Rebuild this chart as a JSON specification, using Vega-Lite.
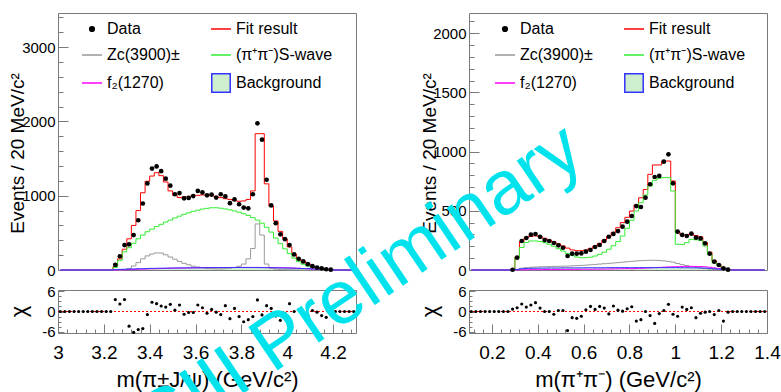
{
  "$schema": "https://vega.github.io/schema/vega-lite/v6.json",
  "background": "white",
  "padding": {"left": 6, "top": 9, "right": 14, "bottom": 0},
  "datasets": {
    "L": [
      {"m":3.01,"d":null,"fit":0,"zc":0,"sw":0,"f2":0,"bg":0,"chi":0},
      {"m":3.03,"d":null,"fit":0,"zc":0,"sw":0,"f2":0,"bg":0,"chi":0},
      {"m":3.05,"d":null,"fit":0,"zc":0,"sw":0,"f2":0,"bg":0,"chi":0},
      {"m":3.07,"d":null,"fit":0,"zc":0,"sw":0,"f2":0,"bg":0,"chi":0},
      {"m":3.09,"d":null,"fit":0,"zc":0,"sw":0,"f2":0,"bg":0,"chi":0},
      {"m":3.11,"d":null,"fit":0,"zc":0,"sw":0,"f2":0,"bg":0,"chi":0},
      {"m":3.13,"d":null,"fit":0,"zc":0,"sw":0,"f2":0,"bg":0,"chi":0},
      {"m":3.15,"d":null,"fit":0,"zc":0,"sw":0,"f2":0,"bg":0,"chi":0},
      {"m":3.17,"d":null,"fit":0,"zc":0,"sw":0,"f2":0,"bg":0,"chi":0},
      {"m":3.19,"d":null,"fit":0,"zc":0,"sw":0,"f2":0,"bg":0,"chi":0},
      {"m":3.21,"d":null,"fit":0,"zc":0,"sw":0,"f2":0,"bg":0,"chi":0},
      {"m":3.23,"d":null,"fit":0,"zc":0,"sw":0,"f2":0,"bg":0,"chi":0},
      {"m":3.25,"d":70,"fit":45,"zc":0,"sw":35,"f2":0,"bg":5,"chi":3.5},
      {"m":3.27,"d":185,"fit":150,"zc":0,"sw":130,"f2":2,"bg":8,"chi":2.2},
      {"m":3.29,"d":335,"fit":280,"zc":5,"sw":245,"f2":3,"bg":10,"chi":3.5},
      {"m":3.31,"d":345,"fit":420,"zc":20,"sw":300,"f2":5,"bg":12,"chi":-4.3},
      {"m":3.33,"d":470,"fit":600,"zc":55,"sw":360,"f2":8,"bg":14,"chi":-6.1},
      {"m":3.35,"d":670,"fit":800,"zc":100,"sw":420,"f2":10,"bg":16,"chi":-5.3},
      {"m":3.37,"d":895,"fit":1040,"zc":150,"sw":470,"f2":12,"bg":18,"chi":-5.0},
      {"m":3.39,"d":1165,"fit":1195,"zc":190,"sw":515,"f2":14,"bg":20,"chi":-0.9},
      {"m":3.41,"d":1365,"fit":1265,"zc":215,"sw":550,"f2":16,"bg":22,"chi":2.7},
      {"m":3.43,"d":1395,"fit":1310,"zc":230,"sw":585,"f2":18,"bg":23,"chi":2.3},
      {"m":3.45,"d":1330,"fit":1270,"zc":228,"sw":615,"f2":20,"bg":24,"chi":1.6},
      {"m":3.47,"d":1230,"fit":1185,"zc":205,"sw":645,"f2":22,"bg":25,"chi":1.3},
      {"m":3.49,"d":1135,"fit":1065,"zc":175,"sw":672,"f2":24,"bg":26,"chi":2.1},
      {"m":3.51,"d":1020,"fit":1005,"zc":145,"sw":700,"f2":25,"bg":27,"chi":0.4},
      {"m":3.53,"d":1035,"fit":975,"zc":115,"sw":725,"f2":26,"bg":28,"chi":1.9},
      {"m":3.55,"d":965,"fit":985,"zc":90,"sw":750,"f2":27,"bg":28,"chi":-0.8},
      {"m":3.57,"d":970,"fit":985,"zc":70,"sw":770,"f2":28,"bg":29,"chi":-0.3},
      {"m":3.59,"d":995,"fit":1005,"zc":52,"sw":790,"f2":29,"bg":30,"chi":-0.3},
      {"m":3.61,"d":1065,"fit":1005,"zc":40,"sw":805,"f2":30,"bg":30,"chi":1.9},
      {"m":3.63,"d":1045,"fit":1010,"zc":30,"sw":820,"f2":31,"bg":31,"chi":1.1},
      {"m":3.65,"d":1005,"fit":1015,"zc":22,"sw":830,"f2":32,"bg":31,"chi":-0.5},
      {"m":3.67,"d":1015,"fit":1000,"zc":18,"sw":838,"f2":32,"bg":32,"chi":0.6},
      {"m":3.69,"d":975,"fit":985,"zc":15,"sw":838,"f2":33,"bg":32,"chi":-0.2},
      {"m":3.71,"d":1020,"fit":975,"zc":15,"sw":832,"f2":33,"bg":32,"chi":-0.9},
      {"m":3.73,"d":990,"fit":960,"zc":18,"sw":822,"f2":34,"bg":33,"chi":1.7},
      {"m":3.75,"d":900,"fit":950,"zc":25,"sw":810,"f2":34,"bg":33,"chi":-2.1},
      {"m":3.77,"d":950,"fit":935,"zc":35,"sw":795,"f2":34,"bg":33,"chi":0.9},
      {"m":3.79,"d":885,"fit":925,"zc":50,"sw":778,"f2":35,"bg":33,"chi":-1.5},
      {"m":3.81,"d":840,"fit":930,"zc":80,"sw":758,"f2":35,"bg":33,"chi":-3.0},
      {"m":3.83,"d":830,"fit":950,"zc":150,"sw":735,"f2":35,"bg":33,"chi":-2.4},
      {"m":3.85,"d":1020,"fit":1065,"zc":290,"sw":705,"f2":35,"bg":33,"chi":-1.5},
      {"m":3.87,"d":1975,"fit":1835,"zc":620,"sw":672,"f2":35,"bg":32,"chi":3.4},
      {"m":3.89,"d":1755,"fit":1835,"zc":470,"sw":630,"f2":34,"bg":32,"chi":-1.0},
      {"m":3.91,"d":1215,"fit":1160,"zc":80,"sw":575,"f2":34,"bg":31,"chi":1.7},
      {"m":3.93,"d":870,"fit":860,"zc":25,"sw":510,"f2":33,"bg":30,"chi":0.9},
      {"m":3.95,"d":630,"fit":660,"zc":12,"sw":430,"f2":32,"bg":29,"chi":-1.3},
      {"m":3.97,"d":480,"fit":520,"zc":8,"sw":355,"f2":31,"bg":28,"chi":-2.6},
      {"m":3.99,"d":415,"fit":420,"zc":5,"sw":285,"f2":30,"bg":27,"chi":-0.5},
      {"m":4.01,"d":335,"fit":310,"zc":3,"sw":220,"f2":28,"bg":26,"chi":2.3},
      {"m":4.03,"d":210,"fit":215,"zc":2,"sw":160,"f2":26,"bg":24,"chi":0},
      {"m":4.05,"d":150,"fit":150,"zc":1,"sw":112,"f2":23,"bg":22,"chi":0.5},
      {"m":4.07,"d":115,"fit":120,"zc":1,"sw":78,"f2":20,"bg":20,"chi":-0.8},
      {"m":4.09,"d":78,"fit":88,"zc":0,"sw":52,"f2":17,"bg":18,"chi":-1.2},
      {"m":4.11,"d":52,"fit":52,"zc":0,"sw":33,"f2":14,"bg":15,"chi":0.3},
      {"m":4.13,"d":32,"fit":33,"zc":0,"sw":20,"f2":10,"bg":12,"chi":-0.2},
      {"m":4.15,"d":22,"fit":25,"zc":0,"sw":12,"f2":7,"bg":9,"chi":-1.2},
      {"m":4.17,"d":10,"fit":15,"zc":0,"sw":6,"f2":4,"bg":6,"chi":-1.7},
      {"m":4.19,"d":5,"fit":6,"zc":0,"sw":2,"f2":2,"bg":3,"chi":0},
      {"m":4.21,"d":null,"fit":0,"zc":0,"sw":0,"f2":0,"bg":0,"chi":0},
      {"m":4.23,"d":null,"fit":0,"zc":0,"sw":0,"f2":0,"bg":0,"chi":0},
      {"m":4.25,"d":null,"fit":0,"zc":0,"sw":0,"f2":0,"bg":0,"chi":0},
      {"m":4.27,"d":null,"fit":0,"zc":0,"sw":0,"f2":0,"bg":0,"chi":0},
      {"m":4.29,"d":null,"fit":0,"zc":0,"sw":0,"f2":0,"bg":0,"chi":0}
    ],
    "R": [
      {"m":0.11,"d":null,"fit":0,"zc":0,"sw":0,"f2":0,"bg":0,"chi":0},
      {"m":0.13,"d":null,"fit":0,"zc":0,"sw":0,"f2":0,"bg":0,"chi":0},
      {"m":0.15,"d":null,"fit":0,"zc":0,"sw":0,"f2":0,"bg":0,"chi":0},
      {"m":0.17,"d":null,"fit":0,"zc":0,"sw":0,"f2":0,"bg":0,"chi":0},
      {"m":0.19,"d":null,"fit":0,"zc":0,"sw":0,"f2":0,"bg":0,"chi":0},
      {"m":0.21,"d":null,"fit":0,"zc":0,"sw":0,"f2":0,"bg":0,"chi":0},
      {"m":0.23,"d":null,"fit":0,"zc":0,"sw":0,"f2":0,"bg":0,"chi":0},
      {"m":0.25,"d":null,"fit":0,"zc":0,"sw":0,"f2":0,"bg":0,"chi":0},
      {"m":0.27,"d":null,"fit":0,"zc":0,"sw":0,"f2":0,"bg":0,"chi":0},
      {"m":0.29,"d":2,"fit":2,"zc":0,"sw":0,"f2":0,"bg":0,"chi":0.7},
      {"m":0.31,"d":104,"fit":110,"zc":5,"sw":104,"f2":1,"bg":5,"chi":1.1},
      {"m":0.33,"d":245,"fit":240,"zc":15,"sw":190,"f2":2,"bg":10,"chi":2.2},
      {"m":0.35,"d":270,"fit":272,"zc":20,"sw":232,"f2":2,"bg":12,"chi":1.3},
      {"m":0.37,"d":298,"fit":285,"zc":23,"sw":245,"f2":3,"bg":14,"chi":1.9},
      {"m":0.39,"d":304,"fit":288,"zc":25,"sw":245,"f2":3,"bg":15,"chi":2.6},
      {"m":0.41,"d":280,"fit":280,"zc":27,"sw":240,"f2":3,"bg":16,"chi":1.0},
      {"m":0.43,"d":253,"fit":268,"zc":28,"sw":230,"f2":4,"bg":16,"chi":0},
      {"m":0.45,"d":245,"fit":253,"zc":29,"sw":217,"f2":4,"bg":17,"chi":0},
      {"m":0.47,"d":228,"fit":238,"zc":30,"sw":200,"f2":4,"bg":17,"chi":-0.8},
      {"m":0.49,"d":208,"fit":220,"zc":31,"sw":180,"f2":4,"bg":17,"chi":0.3},
      {"m":0.51,"d":188,"fit":203,"zc":32,"sw":160,"f2":5,"bg":18,"chi":0.3},
      {"m":0.53,"d":118,"fit":185,"zc":33,"sw":140,"f2":5,"bg":18,"chi":-5.6},
      {"m":0.55,"d":138,"fit":170,"zc":35,"sw":122,"f2":5,"bg":18,"chi":-1.8},
      {"m":0.57,"d":138,"fit":163,"zc":37,"sw":110,"f2":5,"bg":18,"chi":-2.0},
      {"m":0.59,"d":141,"fit":163,"zc":39,"sw":104,"f2":6,"bg":18,"chi":-1.4},
      {"m":0.61,"d":155,"fit":170,"zc":41,"sw":104,"f2":6,"bg":19,"chi":0.5},
      {"m":0.63,"d":169,"fit":183,"zc":44,"sw":108,"f2":6,"bg":19,"chi":1.5},
      {"m":0.65,"d":194,"fit":202,"zc":47,"sw":118,"f2":7,"bg":19,"chi":0.6},
      {"m":0.67,"d":211,"fit":225,"zc":50,"sw":132,"f2":7,"bg":19,"chi":1.5},
      {"m":0.69,"d":245,"fit":252,"zc":53,"sw":150,"f2":8,"bg":19,"chi":1.0},
      {"m":0.71,"d":281,"fit":283,"zc":56,"sw":175,"f2":8,"bg":20,"chi":-0.7},
      {"m":0.73,"d":305,"fit":318,"zc":59,"sw":205,"f2":9,"bg":20,"chi":1.6},
      {"m":0.75,"d":329,"fit":357,"zc":62,"sw":240,"f2":10,"bg":20,"chi":0.4},
      {"m":0.77,"d":366,"fit":400,"zc":66,"sw":287,"f2":11,"bg":20,"chi":0.1},
      {"m":0.79,"d":408,"fit":445,"zc":70,"sw":352,"f2":12,"bg":20,"chi":0.8},
      {"m":0.81,"d":456,"fit":498,"zc":73,"sw":420,"f2":10,"bg":20,"chi":1.4},
      {"m":0.83,"d":540,"fit":549,"zc":76,"sw":498,"f2":12,"bg":20,"chi":-2.8},
      {"m":0.85,"d":532,"fit":610,"zc":79,"sw":568,"f2":14,"bg":20,"chi":-2.4},
      {"m":0.87,"d":611,"fit":680,"zc":81,"sw":633,"f2":16,"bg":20,"chi":0},
      {"m":0.89,"d":724,"fit":808,"zc":82,"sw":709,"f2":18,"bg":20,"chi":-1.2},
      {"m":0.91,"d":785,"fit":887,"zc":82,"sw":757,"f2":20,"bg":20,"chi":-3.5},
      {"m":0.93,"d":794,"fit":887,"zc":80,"sw":774,"f2":22,"bg":20,"chi":-0.6},
      {"m":0.95,"d":915,"fit":920,"zc":77,"sw":780,"f2":24,"bg":20,"chi":0.3},
      {"m":0.97,"d":977,"fit":920,"zc":73,"sw":780,"f2":26,"bg":20,"chi":2.1},
      {"m":0.99,"d":732,"fit":752,"zc":66,"sw":667,"f2":27,"bg":20,"chi":-0.8},
      {"m":1.01,"d":324,"fit":324,"zc":55,"sw":217,"f2":28,"bg":20,"chi":-1.4},
      {"m":1.03,"d":296,"fit":296,"zc":45,"sw":215,"f2":29,"bg":19,"chi":1.3},
      {"m":1.05,"d":287,"fit":296,"zc":37,"sw":231,"f2":30,"bg":19,"chi":0.6},
      {"m":1.07,"d":307,"fit":307,"zc":30,"sw":259,"f2":30,"bg":18,"chi":1.1},
      {"m":1.09,"d":273,"fit":290,"zc":24,"sw":255,"f2":30,"bg":18,"chi":-1.8},
      {"m":1.11,"d":267,"fit":280,"zc":18,"sw":250,"f2":29,"bg":17,"chi":-0.5},
      {"m":1.13,"d":225,"fit":232,"zc":12,"sw":203,"f2":27,"bg":16,"chi":-0.2},
      {"m":1.15,"d":138,"fit":150,"zc":8,"sw":132,"f2":23,"bg":14,"chi":0},
      {"m":1.17,"d":70,"fit":78,"zc":5,"sw":62,"f2":18,"bg":11,"chi":-0.9},
      {"m":1.19,"d":42,"fit":45,"zc":3,"sw":37,"f2":12,"bg":8,"chi":0.3},
      {"m":1.21,"d":14,"fit":18,"zc":1,"sw":14,"f2":7,"bg":5,"chi":-2.8},
      {"m":1.23,"d":3,"fit":4,"zc":0,"sw":3,"f2":3,"bg":2,"chi":-0.2},
      {"m":1.25,"d":null,"fit":0,"zc":0,"sw":0,"f2":0,"bg":0,"chi":0},
      {"m":1.27,"d":null,"fit":0,"zc":0,"sw":0,"f2":0,"bg":0,"chi":0},
      {"m":1.29,"d":null,"fit":0,"zc":0,"sw":0,"f2":0,"bg":0,"chi":0},
      {"m":1.31,"d":null,"fit":0,"zc":0,"sw":0,"f2":0,"bg":0,"chi":0},
      {"m":1.33,"d":null,"fit":0,"zc":0,"sw":0,"f2":0,"bg":0,"chi":0},
      {"m":1.35,"d":null,"fit":0,"zc":0,"sw":0,"f2":0,"bg":0,"chi":0},
      {"m":1.37,"d":null,"fit":0,"zc":0,"sw":0,"f2":0,"bg":0,"chi":0},
      {"m":1.39,"d":null,"fit":0,"zc":0,"sw":0,"f2":0,"bg":0,"chi":0}
    ],
    "Z0": [{"m": 3.0, "chi": 0}, {"m": 4.3, "chi": 0}],
    "Z1": [{"m": 0.1, "chi": 0}, {"m": 1.4, "chi": 0}],
    "W": [{"m": 4.195, "chi": -6.5, "t": "BESIII Preliminary"}]
  },
  "columns": 2,
  "spacing": {"row": 20, "column": 113},
  "bounds": "flush",
  "resolve": {"scale": {"color": "independent"}},
  "concat": [
    {
      "width": 298,
      "height": 257,
      "data": {"name": "L"},
      "encoding": {
        "x": {"field": "m", "type": "quantitative", "scale": {"domain": [3, 4.3], "nice": false, "zero": false}, "axis": null},
        "y": {"field": "val", "type": "quantitative", "scale": {"domain": [0, 3460], "nice": false},
          "axis": {
            "values": [0,200,400,600,800,1000,1200,1400,1600,1800,2000,2200,2400,2600,2800,3000,3200,3400],
            "format": "d",
            "labelExpr": "datum.value % 1000 === 0 ? datum.label : ''",
            "tickSize": {"condition": {"test": "datum.value % 1000 === 0", "value": -10}, "value": -5},
            "labelPadding": 13, "labelFontSize": 15, "labelOverlap": false, "labelBound": false,
            "title": "Events / 20 MeV/c²", "titleFontSize": 19,
            "titleX": -41, "titleY": 140, "titleAngle": 270, "titleAlign": "center", "titleBaseline": "middle"
          }}
      },
      "layer": [
        {
          "transform": [{"fold": ["bg"], "as": ["comp", "val"]}],
          "mark": {"type": "area", "interpolate": "step", "color": "#c4efc4", "opacity": 0.8}
        },
        {
          "transform": [{"fold": ["fit", "zc", "sw", "f2", "bg"], "as": ["comp", "val"]}],
          "mark": {"type": "line", "interpolate": "step", "strokeWidth": 1},
          "encoding": {
            "color": {"field": "comp", "type": "nominal",
              "scale": {"domain": ["data", "fit", "zc", "sw", "f2", "bg"], "range": ["#000000", "#ff0000", "#999999", "#33ee33", "#ff00ff", "#3333ff"]},
              "legend": {
                "orient": "none", "legendX": 23, "legendY": 5, "direction": "horizontal", "columns": 2, "columnPadding": 28, "rowPadding": 7, "padding": 0, "title": null,
                "labelFont": "Liberation Sans", "labelFontSize": 16, "labelColor": "#000000", "labelOffset": 4, "labelLimit": 300,
                "symbolType": "stroke", "symbolSize": 400, "symbolStrokeWidth": 1.5, "symbolOpacity": 1,
                "labelExpr": "{'data':'Data','fit':'Fit result','zc':'Zc(3900)±','sw':'(π⁺π⁻)S-wave','f2':'f₂(1270)','bg':'Background'}[datum.value]",
                "encode": {"symbols": {"update": {
                  "shape": {"signal": "datum.value === 'data' ? 'circle' : datum.value === 'bg' ? 'square' : 'stroke'"},
                  "size": {"signal": "datum.value === 'data' ? 22 : datum.value === 'bg' ? 340 : 400"},
                  "fill": {"signal": "datum.value === 'data' ? '#000000' : datum.value === 'bg' ? '#cdefcd' : 'transparent'"},
                  "stroke": {"signal": "{'data':'#000000','fit':'#ff0000','zc':'#999999','sw':'#33ee33','f2':'#ff00ff','bg':'#5050c8'}[datum.value]"}
                }}}
              }}
          }
        },
        {
          "transform": [{"fold": ["d"], "as": ["comp", "val"]}],
          "mark": {"type": "point", "filled": true, "size": 22, "color": "#000000", "opacity": 1}
        }
      ]
    },
    {
      "width": 298,
      "height": 257,
      "data": {"name": "R"},
      "encoding": {
        "x": {"field": "m", "type": "quantitative", "scale": {"domain": [0.1, 1.4], "nice": false, "zero": false}, "axis": null},
        "y": {"field": "val", "type": "quantitative", "scale": {"domain": [0, 2170], "nice": false},
          "axis": {
            "values": [0,100,200,300,400,500,600,700,800,900,1000,1100,1200,1300,1400,1500,1600,1700,1800,1900,2000,2100],
            "format": "d",
            "labelExpr": "datum.value % 500 === 0 ? datum.label : ''",
            "tickSize": {"condition": {"test": "datum.value % 500 === 0", "value": -10}, "value": -5},
            "labelPadding": 13, "labelFontSize": 15, "labelOverlap": false, "labelBound": false,
            "title": "Events / 20 MeV/c²", "titleFontSize": 19,
            "titleX": -40, "titleY": 140, "titleAngle": 270, "titleAlign": "center", "titleBaseline": "middle"
          }}
      },
      "layer": [
        {
          "transform": [{"fold": ["bg"], "as": ["comp", "val"]}],
          "mark": {"type": "area", "interpolate": "step", "color": "#c4efc4", "opacity": 0.8}
        },
        {
          "transform": [{"fold": ["fit", "zc", "sw", "f2", "bg"], "as": ["comp", "val"]}],
          "mark": {"type": "line", "interpolate": "step", "strokeWidth": 1},
          "encoding": {
            "color": {"field": "comp", "type": "nominal",
              "scale": {"domain": ["data", "fit", "zc", "sw", "f2", "bg"], "range": ["#000000", "#ff0000", "#999999", "#33ee33", "#ff00ff", "#3333ff"]},
              "legend": {
                "orient": "none", "legendX": 25, "legendY": 5, "direction": "horizontal", "columns": 2, "columnPadding": 28, "rowPadding": 7, "padding": 0, "title": null,
                "labelFont": "Liberation Sans", "labelFontSize": 16, "labelColor": "#000000", "labelOffset": 4, "labelLimit": 300,
                "symbolType": "stroke", "symbolSize": 400, "symbolStrokeWidth": 1.5, "symbolOpacity": 1,
                "labelExpr": "{'data':'Data','fit':'Fit result','zc':'Zc(3900)±','sw':'(π⁺π⁻)S-wave','f2':'f₂(1270)','bg':'Background'}[datum.value]",
                "encode": {"symbols": {"update": {
                  "shape": {"signal": "datum.value === 'data' ? 'circle' : datum.value === 'bg' ? 'square' : 'stroke'"},
                  "size": {"signal": "datum.value === 'data' ? 22 : datum.value === 'bg' ? 340 : 400"},
                  "fill": {"signal": "datum.value === 'data' ? '#000000' : datum.value === 'bg' ? '#cdefcd' : 'transparent'"},
                  "stroke": {"signal": "{'data':'#000000','fit':'#ff0000','zc':'#999999','sw':'#33ee33','f2':'#ff00ff','bg':'#5050c8'}[datum.value]"}
                }}}
              }}
          }
        },
        {
          "transform": [{"fold": ["d"], "as": ["comp", "val"]}],
          "mark": {"type": "point", "filled": true, "size": 22, "color": "#000000", "opacity": 1}
        }
      ]
    },
    {
      "width": 298,
      "height": 43,
      "encoding": {
        "x": {"field": "m", "type": "quantitative", "scale": {"domain": [3, 4.3], "nice": false, "zero": false},
          "axis": {
            "values": [3,3.04,3.08,3.12,3.16,3.2,3.24,3.28,3.32,3.36,3.4,3.44,3.48,3.52,3.56,3.6,3.64,3.68,3.72,3.76,3.8,3.84,3.88,3.92,3.96,4,4.04,4.08,4.12,4.16,4.2,4.24,4.28],
            "labelExpr": "abs(datum.value*5 - round(datum.value*5)) < 0.001 ? format(datum.value, '~g') : ''",
            "tickSize": {"condition": {"test": "abs(datum.value*5 - round(datum.value*5)) < 0.001", "value": -9}, "value": -4},
            "labelPadding": 19, "labelFontSize": 19, "labelOverlap": false, "labelBound": false, "labelFlush": false,
            "title": "m(π±J/ψ) (GeV/c²)", "titleFontSize": 22,
            "titleX": 149, "titleY": 53, "titleAlign": "center", "titleBaseline": "alphabetic", "titleAngle": 0
          }},
        "y": {"field": "chi", "type": "quantitative", "scale": {"domain": [-6.3, 6.3], "nice": false},
          "axis": {
            "values": [-6, -4.5, -3, -1.5, 0, 1.5, 3, 4.5, 6],
            "labelExpr": "datum.value === 6 ? '6' : datum.value === 0 ? '0' : datum.value === -6 ? '-6' : ''",
            "tickSize": {"condition": {"test": "datum.value % 6 === 0", "value": -6}, "value": -3},
            "labelPadding": 9, "labelFontSize": 15, "labelOverlap": false, "labelBound": false, "labelFlush": false,
            "title": "χ", "titleFontSize": 22,
            "titleX": -40, "titleY": 21, "titleAngle": 270, "titleAlign": "center", "titleBaseline": "middle"
          }}
      },
      "layer": [
        {
          "data": {"name": "Z0"},
          "mark": {"type": "line", "color": "#ff0000", "strokeDash": [2, 2], "strokeWidth": 1},
          "encoding": {}
        },
        {
          "data": {"name": "L"},
          "mark": {"type": "point", "filled": true, "size": 10, "color": "#000000", "opacity": 1}
        },
        {
          "data": {"name": "W"},
          "mark": {"type": "text", "angle": -34, "fontSize": 76, "font": "Liberation Sans", "color": "#00e3ec", "align": "center", "baseline": "alphabetic"},
          "encoding": {"text": {"field": "t"}}
        }
      ]
    },
    {
      "width": 298,
      "height": 43,
      "encoding": {
        "x": {"field": "m", "type": "quantitative", "scale": {"domain": [0.1, 1.4], "nice": false, "zero": false},
          "axis": {
            "values": [0.12,0.16,0.2,0.24,0.28,0.32,0.36,0.4,0.44,0.48,0.52,0.56,0.6,0.64,0.68,0.72,0.76,0.8,0.84,0.88,0.92,0.96,1,1.04,1.08,1.12,1.16,1.2,1.24,1.28,1.32,1.36,1.4],
            "labelExpr": "abs(datum.value*5 - round(datum.value*5)) < 0.001 ? format(datum.value, '~g') : ''",
            "tickSize": {"condition": {"test": "abs(datum.value*5 - round(datum.value*5)) < 0.001", "value": -9}, "value": -4},
            "labelPadding": 19, "labelFontSize": 19, "labelOverlap": false, "labelBound": false, "labelFlush": false,
            "title": "m(π⁺π⁻) (GeV/c²)", "titleFontSize": 22,
            "titleX": 149, "titleY": 53, "titleAlign": "center", "titleBaseline": "alphabetic", "titleAngle": 0
          }},
        "y": {"field": "chi", "type": "quantitative", "scale": {"domain": [-6.3, 6.3], "nice": false},
          "axis": {
            "values": [-6, -4.5, -3, -1.5, 0, 1.5, 3, 4.5, 6],
            "labelExpr": "datum.value === 6 ? '6' : datum.value === 0 ? '0' : datum.value === -6 ? '-6' : ''",
            "tickSize": {"condition": {"test": "datum.value % 6 === 0", "value": -6}, "value": -3},
            "labelPadding": 9, "labelFontSize": 15, "labelOverlap": false, "labelBound": false, "labelFlush": false,
            "title": "χ", "titleFontSize": 22,
            "titleX": -40, "titleY": 21, "titleAngle": 270, "titleAlign": "center", "titleBaseline": "middle"
          }}
      },
      "layer": [
        {
          "data": {"name": "Z1"},
          "mark": {"type": "line", "color": "#ff0000", "strokeDash": [2, 2], "strokeWidth": 1},
          "encoding": {}
        },
        {
          "data": {"name": "R"},
          "mark": {"type": "point", "filled": true, "size": 10, "color": "#000000", "opacity": 1}
        }
      ]
    }
  ],
  "config": {
    "font": "Liberation Sans",
    "view": {"stroke": "#7a7a7a", "strokeWidth": 1},
    "axis": {"domain": false, "grid": false, "labelOverlap": false, "labelFont": "Liberation Sans", "labelColor": "#000000", "titleFont": "Liberation Sans", "titleColor": "#000000", "titleFontWeight": "normal", "tickColor": "#7a7a7a", "tickWidth": 1}
  }
}
